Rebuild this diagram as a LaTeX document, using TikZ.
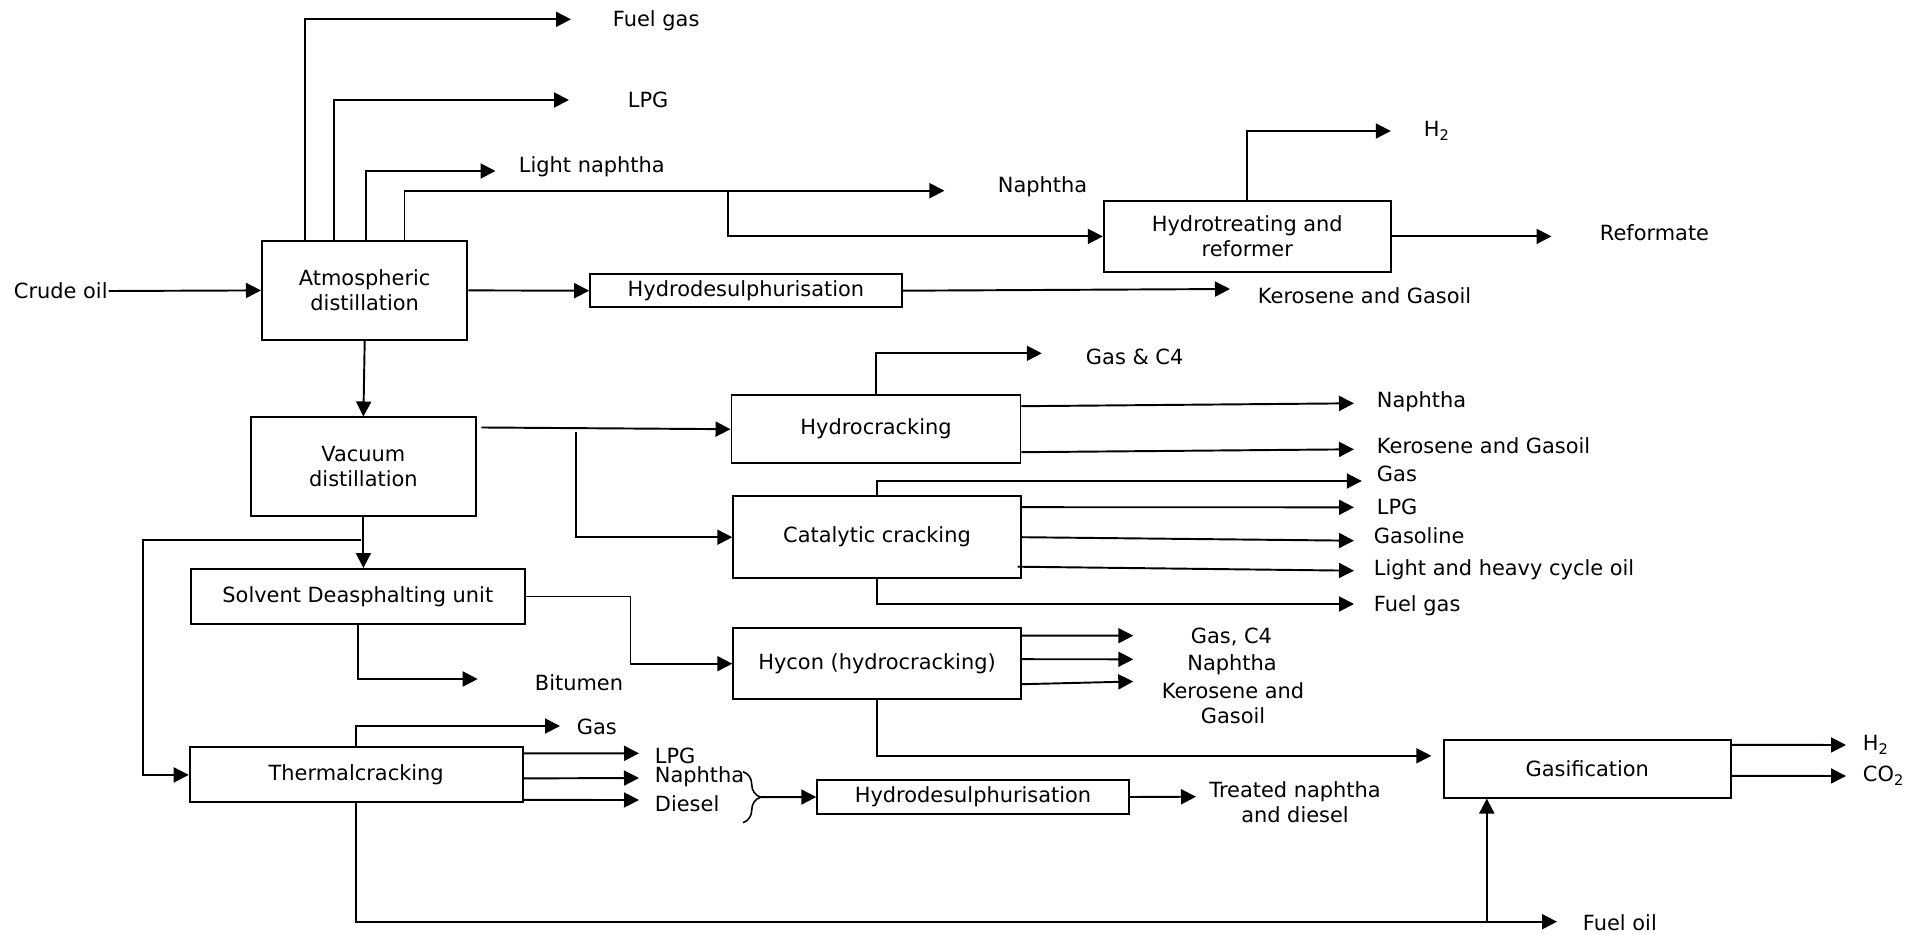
\documentclass[tikz,border=0pt]{standalone}
\usepackage{fontspec}
\setmainfont{DejaVu Sans}
\usetikzlibrary{arrows.meta,positioning,decorations.pathreplacing}

\begin{document}
\begin{tikzpicture}[x=0.2mm, y=-0.2mm, line width=1.1pt,
  font=\fontsize{11.9}{14.2}\selectfont,
  arr/.style={-{Triangle[length=3mm,width=3mm]}},
  unit/.style={draw, align=center, inner sep=0pt},
  lbl/.style={inner sep=0pt, anchor=west},
  clbl/.style={inner sep=0pt, align=center}]

\useasboundingbox (0,0) rectangle (1914,935);

% units
\node[unit, minimum width=41.1mm, minimum height=19.9mm] (atm) at (364.7,290.4) {Atmospheric\\distillation};
\node[unit, minimum width=62.3mm, minimum height=6.7mm] (hds1) at (745.9,290.7) {Hydrodesulphurisation};
\node[unit, minimum width=57.4mm, minimum height=14.1mm] (htr) at (1247.3,236.4) {Hydrotreating and\\reformer};
\node[unit, minimum width=45mm, minimum height=19.7mm] (vac) at (363.4,466.7) {Vacuum\\distillation};
\node[unit, minimum width=57.8mm, minimum height=13.7mm] (hcr) at (876,429.2) {Hydrocracking};
\node[unit, minimum width=57.5mm, minimum height=16.5mm] (cat) at (877,537.2) {Catalytic cracking};
\node[unit, minimum width=66.7mm, minimum height=11mm] (sda) at (357.8,596.5) {Solvent Deasphalting unit};
\node[unit, minimum width=57.5mm, minimum height=14.1mm] (hyc) at (877,663.7) {Hycon (hydrocracking)};
\node[unit, minimum width=66.6mm, minimum height=11mm] (thc) at (356.2,774.9) {Thermalcracking};
\node[unit, minimum width=62.3mm, minimum height=6.8mm] (hds2) at (973,797) {Hydrodesulphurisation};
\node[unit, minimum width=57.4mm, minimum height=11.5mm] (gsf) at (1587.3,768.8) {Gasification};

% streams
\node[lbl] (crude) at (13,291) {Crude oil};
\node[lbl] (fg1) at (612,21) {Fuel gas};
\node[lbl] (lpg1) at (627,100) {LPG};
\node[lbl] (ln) at (518,167) {Light naphtha};
\node[lbl] (na1) at (997,187) {Naphtha};
\node[lbl] (h2a) at (1423,131) {H\textsubscript{2}};
\node[lbl] (ref) at (1599,233) {Reformate};
\node[lbl] (kg1) at (1257,296) {Kerosene and Gasoil};
\node[lbl] (gc4) at (1085,357) {Gas \& C4};
\node[lbl] (na2) at (1376,402) {Naphtha};
\node[lbl] (kg2) at (1376,446) {Kerosene and Gasoil};
\node[lbl] (gas1) at (1376,474) {Gas};
\node[lbl] (lpg2) at (1376,507) {LPG};
\node[lbl] (gsl) at (1373,536) {Gasoline};
\node[lbl] (lhco) at (1373,570) {Light and heavy cycle oil};
\node[lbl] (fg2) at (1373,605.7) {Fuel gas};
\node[clbl] (gc4b) at (1231.5,637) {Gas, C4};
\node[clbl] (na3) at (1232,665) {Naphtha};
\node[clbl] (kg3) at (1233,703) {Kerosene and\\Gasoil};
\node[lbl] (bit) at (534,683) {Bitumen};
\node[lbl] (gas2) at (576,727) {Gas};
\node[lbl] (lpg3) at (654,756) {LPG};
\node[lbl] (na4) at (654,777) {Naphtha};
\node[lbl] (dsl) at (654,804) {Diesel};
\node[clbl] (tnd) at (1295,802) {Treated naphtha\\and diesel};
\node[lbl] (h2b) at (1862,745) {H\textsubscript{2}};
\node[lbl] (co2) at (1862,776) {CO\textsubscript{2}};
\node[lbl] (fo) at (1582,923) {Fuel oil};

% arrow ends
\coordinate (fgtip) at (571,19.3);
\coordinate (lpgtip) at (569,100);
\coordinate (lntip) at (495.5,171);
\coordinate (natip) at (944.4,190.7);
\coordinate (nabr) at (727.6,190.7);
\coordinate (h2atip) at (1390.8,131);
\coordinate (reftip) at (1551.5,236.4);
\coordinate (kg1tip) at (1230,289);
\coordinate (gc4tip) at (1041.8,353.3);
\coordinate (na2tip) at (1354,403.3);
\coordinate (kg2tip) at (1354,449.3);
\coordinate (gas1tip) at (1361.8,481);
\coordinate (lpg2tip) at (1354,507.3);
\coordinate (gsltip) at (1354,540.7);
\coordinate (lhcotip) at (1354,570.7);
\coordinate (fg2tip) at (1354,604);
\coordinate (vbr) at (576.3,432);
\coordinate (lp) at (361,540.3);
\coordinate (bittip) at (477.7,679);
\coordinate (gc4btip) at (1133.3,635.7);
\coordinate (na3tip) at (1133.3,659.3);
\coordinate (kg3tip) at (1133.3,681.5);
\coordinate (gas2tip) at (560,726);
\coordinate (lpg3tip) at (639,753.3);
\coordinate (na4tip) at (639,778);
\coordinate (dsltip) at (639,800);
\coordinate (brtip) at (760.5,797.2);
\coordinate (tndtip) at (1196,796.7);
\coordinate (fotip) at (1557,921.7);
\coordinate (fobr) at (1486.8,921.7);
\coordinate (h2btip) at (1846,745);
\coordinate (co2tip) at (1846,776);

\draw[arr] (crude.east) -- (atm.west);
\draw[arr] ([xshift=8.8mm]atm.north west) |- (fgtip);
\draw[arr] ([xshift=14.6mm]atm.north west) |- (lpgtip);
\draw[arr] ([xshift=21mm]atm.north west) |- (lntip);
\draw[arr] ([xshift=28.7mm]atm.north west) |- (natip);
\draw[arr] (nabr) |- (htr.west);
\draw[arr] (htr.north) |- (h2atip);
\draw[arr] (htr.east) -- (reftip);
\draw[arr] (atm.east) -- (hds1.west);
\draw[arr] (hds1.east) -- (kg1tip);
\draw[arr] (atm.south) -- (vac.north);

\draw[arr] ([xshift=0.9mm,yshift=-2.2mm]vac.north east) -- (hcr.west);
\draw[arr] (vbr) |- (cat.west);
\draw[arr] (hcr.north) |- (gc4tip);
\draw[arr] ([yshift=4.6mm]hcr.east) -- (na2tip);
\draw[arr] ([yshift=-4.6mm]hcr.east) -- (kg2tip);
\draw[arr] (cat.north) |- (gas1tip);
\draw[arr] ([yshift=6mm]cat.east) -- (lpg2tip);
\draw[arr] (cat.east) -- (gsltip);
\draw[arr] ([xshift=-0.8mm,yshift=-5.9mm]cat.east) -- (lhcotip);
\draw[arr] (cat.south) |- (fg2tip);

\draw[arr] (vac.south) -- (vac.south |- sda.north);
\draw[arr] (lp) -| ([xshift=-9.2mm]thc.west) -- (thc.west);
\draw[arr] (sda.east) -- ++(105,0) |- (hyc.west);
\draw[arr] (sda.south) |- (bittip);
\draw[arr] ([yshift=5.6mm]hyc.east) -- (gc4btip);
\draw[arr] ([yshift=0.9mm]hyc.east) -- (na3tip);
\draw[arr] ([yshift=-4.1mm]hyc.east) -- (kg3tip);
\draw[arr] (hyc.south) |- ([xshift=-2.3mm,yshift=2.6mm]gsf.west);

\draw[arr] (thc.north) |- (gas2tip);
\draw[arr] ([yshift=4.3mm]thc.east) -- (lpg3tip);
\draw[arr] ([yshift=-0.7mm]thc.east) -- (na4tip);
\draw[arr] ([yshift=-5mm]thc.east) -- (dsltip);
\draw[decorate, decoration={brace, amplitude=3.5mm}, line width=0.9pt] (743,771.7) -- (743,822.7);
\draw[arr] (brtip) -- (hds2.west);
\draw[arr] (hds2.east) -- (tndtip);
\draw[arr] (thc.south) |- (fotip);
\draw[arr] (fobr) -- (fobr |- gsf.south);
\draw[arr] ([yshift=4.8mm]gsf.east) -- (h2btip);
\draw[arr] ([yshift=-1.4mm]gsf.east) -- (co2tip);

\end{tikzpicture}
\end{document}
